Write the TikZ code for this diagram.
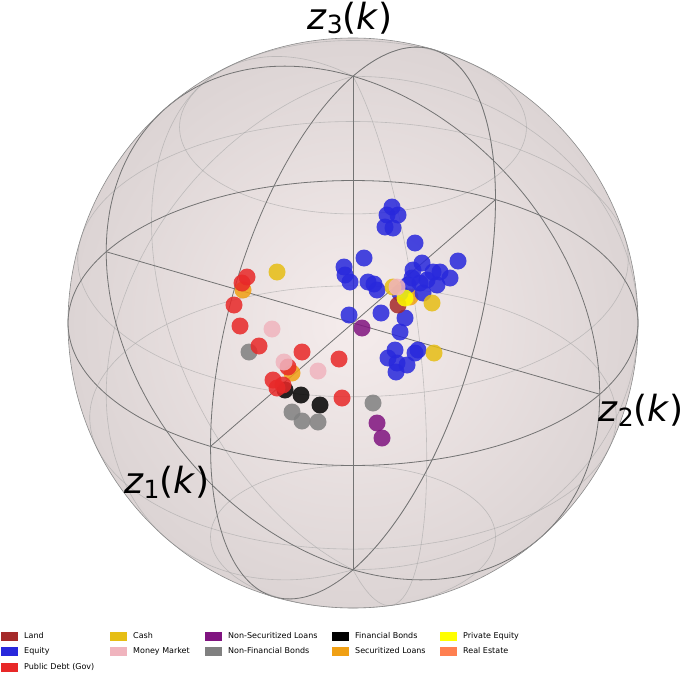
\documentclass[tikz,border=0pt]{standalone}
\usepackage{fontspec}
\setsansfont{DejaVu Sans}
\newcommand{\zlab}[1]{{\sffamily\fontsize{36}{42}\selectfont\textit{z}\raisebox{-0.25ex}{\fontsize{25}{29}\selectfont #1}(\textit{k})}}
\begin{document}
\begin{tikzpicture}[x=1pt,y=1pt,
  grid/.style={draw=black!35,line width=0.6pt,opacity=0.6},
  frame/.style={draw=black!55,line width=0.8pt},
  dot/.style={circle,inner sep=0pt,minimum size=17pt,fill opacity=0.85},
  sw/.style={minimum width=17pt,minimum height=9pt,inner sep=0pt,anchor=west},
  lt/.style={font=\sffamily\fontsize{8}{9}\selectfont,anchor=west,inner sep=0pt}]
\useasboundingbox (0,-674) rectangle (685,0);
\clip (0,-674) rectangle (685,0);
\coordinate (C) at (353,-323);
\shade[inner color={rgb,255:red,245;green,236;blue,236},outer color={rgb,255:red,220;green,212;blue,212}] (C) circle (285);
\begin{scope}[shift={(C)},x={(-142.5pt,-123.4pt)},y={(246.8pt,-71.25pt)},z={(0pt,246.8pt)}]
 \foreach \v in {37.5,75,112.5,150}
   \draw[grid] plot[domain=0:360,samples=73,smooth,variable=\t] ({sin(\v)*cos(\t)},{sin(\v)*sin(\t)},{cos(\v)});
 \foreach \u in {-180,-105,-30,45,120}
   \draw[grid] plot[domain=0:180,samples=37,smooth,variable=\t] ({sin(\t)*cos(\u)},{sin(\t)*sin(\u)},{cos(\t)});
 \draw[frame] plot[domain=0:360,samples=73,smooth,variable=\t] ({cos(\t)},{sin(\t)},0);
 \draw[frame] plot[domain=0:360,samples=73,smooth,variable=\t] ({cos(\t)},0,{sin(\t)});
 \draw[frame] plot[domain=0:360,samples=73,smooth,variable=\t] (0,{cos(\t)},{sin(\t)});
 \coordinate (a1) at (1,0,0); \coordinate (b1) at (-1,0,0);
 \coordinate (a2) at (0,1,0); \coordinate (b2) at (0,-1,0);
 \coordinate (a3) at (0,0,1); \coordinate (b3) at (0,0,-1);
\end{scope}
\draw[frame] (a1) -- (b1); \draw[frame] (a2) -- (b2); \draw[frame] (a3) -- (b3);
\draw[black!45,line width=0.6pt] (C) circle (285);
\node (l3) at (350,-18) {\zlab{3}};
\node[anchor=west,inner sep=0pt] (l2) at (598,-410) {\zlab{2}};
\node[anchor=west,inner sep=0pt] (l1) at (124,-482) {\zlab{1}};
% dots
\definecolor{cb}{RGB}{40,40,220}\definecolor{cr}{RGB}{232,40,40}
\definecolor{cy}{RGB}{230,190,20}\definecolor{co}{RGB}{240,160,20}
\definecolor{cp}{RGB}{240,180,190}\definecolor{cg}{RGB}{128,128,128}
\definecolor{cpu}{RGB}{128,20,128}\definecolor{cl}{RGB}{165,42,42}
\definecolor{cpe}{RGB}{255,255,0}\definecolor{cre}{RGB}{255,127,80}
\foreach \x/\y in {249/352,292/412,302/421,318/422,373/403}\node[dot,fill=cg] at (\x,-\y) {};
\foreach \x/\y in {301/395,320/405,285/390}\node[dot,fill=black] at (\x,-\y) {};
\foreach \x/\y in {362/328,377/423,382/438}\node[dot,fill=cpu] at (\x,-\y) {};
\foreach \x/\y in {243/290,292/373,410/297}\node[dot,fill=co] at (\x,-\y) {};
\foreach \x/\y in {247/277,242/283,234/305,240/326,259/346,302/352,339/359,288/367,273/380,283/385,277/388,342/398}\node[dot,fill=cr] at (\x,-\y) {};
\foreach \x/\y in {392/207,387/215,398/215,385/227,393/228,415/243,364/258,344/267,345/275,350/282,368/282,374/284,377/290,413/270,422/263,420/283,433/272,440/272,450/278,437/285,458/261,427/280,400/293,423/293,349/315,381/313,405/318,400/332,395/350,388/358,397/363,407/365,396/372,415/353,418/350,408/285,412/278}\node[dot,fill=cb] at (\x,-\y) {};
\node[dot,fill=cl] at (398,-305) {};
\foreach \x/\y in {277/272,432/303,434/353,393/287}\node[dot,fill=cy] at (\x,-\y) {};
\node[dot,fill=cpe] at (405,-298) {};
\foreach \x/\y in {272/329,284/362,318/371,397/287}\node[dot,fill=cp] at (\x,-\y) {};
% legend
\foreach \c/\x/\y/\t in {cl/1/636/Land,cb/1/651/Equity,cr/1/667/Public Debt (Gov),cy/110/636/Cash,cp/110/651/Money Market,cpu/205/636/Non-Securitized Loans,cg/205/651/Non-Financial Bonds,black/332/636/Financial Bonds,co/332/651/Securitized Loans,cpe/440/636/Private Equity,cre/440/651/Real Estate}{
  \node[sw,fill=\c] at (\x,-\y) {};
  \node[lt] at (\x+23,-\y) {\t};}
\end{tikzpicture}
\end{document}
